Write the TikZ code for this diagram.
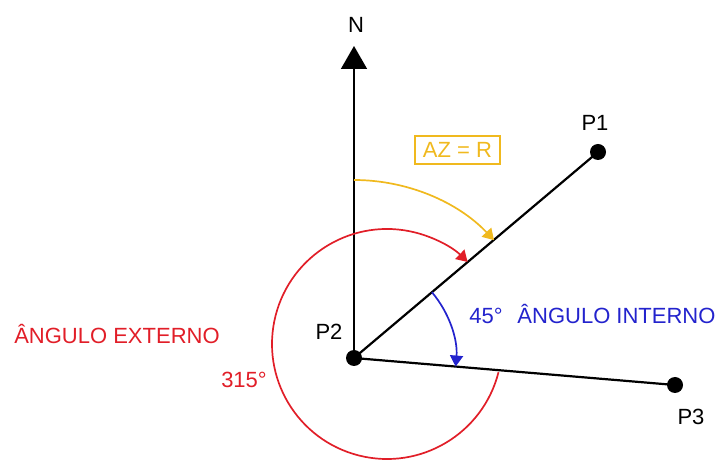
\documentclass[tikz,border=0pt]{standalone}
\usepackage{fontspec}
\setmainfont{Liberation Sans}
\usetikzlibrary{arrows.meta}
\definecolor{azy}{RGB}{240,185,30}
\definecolor{extr}{RGB}{225,30,40}
\definecolor{intb}{RGB}{35,35,205}
\begin{document}
\begin{tikzpicture}[x=1pt,y=1pt,
  dot/.style={circle,fill=black,minimum size=16pt,inner sep=0pt},
  lbl/.style={font=\fontsize{22}{26}\selectfont,inner sep=0pt,text height=15.8pt,text depth=0pt},
  seg/.style={line width=2.2pt},
  arcline/.style={line width=1.7pt},
  tip/.style={-{Triangle[length=11pt,width=13pt]}}
]
\useasboundingbox (0,0) rectangle (722,460);
% points
\node[dot] (P2) at (354,102) {};
\node[dot] (P1) at (598,308) {};
\node[dot] (P3) at (675,75) {};
\coordinate (N) at (354,414);
% north arrow and lines
\draw[line width=1.6pt,-{Triangle[length=23pt,width=26pt]}] (P2.center) -- (N);
\draw[seg] (P2.center) -- (P1.center);
\draw[seg] (P2.center) -- (P3.center);
% arcs
\draw[azy,arcline,tip] (354,280) arc[start angle=90,end angle=43.5,radius=193pt];
\draw[extr,arcline,tip] (498.5,87.8) arc[start angle=-14.2,end angle=-314.5,radius=115pt];
\draw[intb,arcline,tip] (431.9,167.8) arc[start angle=40.2,end angle=-4.8,radius=102pt];
% labels
\node[lbl] (Nl) at (356,435.5) {N};
\node[lbl] (P1l) at (595,337.5) {P1};
\node[lbl] (P2l) at (329,128.5) {P2};
\node[lbl] (P3l) at (691,43.5) {P3};
\node[lbl,draw=azy,text=azy,line width=1.4pt,minimum width=85pt,minimum height=28pt,text height=15.8pt] (AZ) at (457.5,310) {AZ = R};
\node[lbl,text=intb] (ang45) at (486,144) {45°};
\node[lbl,text=intb] (intl) at (616.5,144) {ÂNGULO INTERNO};
\node[lbl,text=extr] (extl) at (117,124.5) {ÂNGULO EXTERNO};
\node[lbl,text=extr] (ang315) at (244,80) {315°};
\end{tikzpicture}
\end{document}
